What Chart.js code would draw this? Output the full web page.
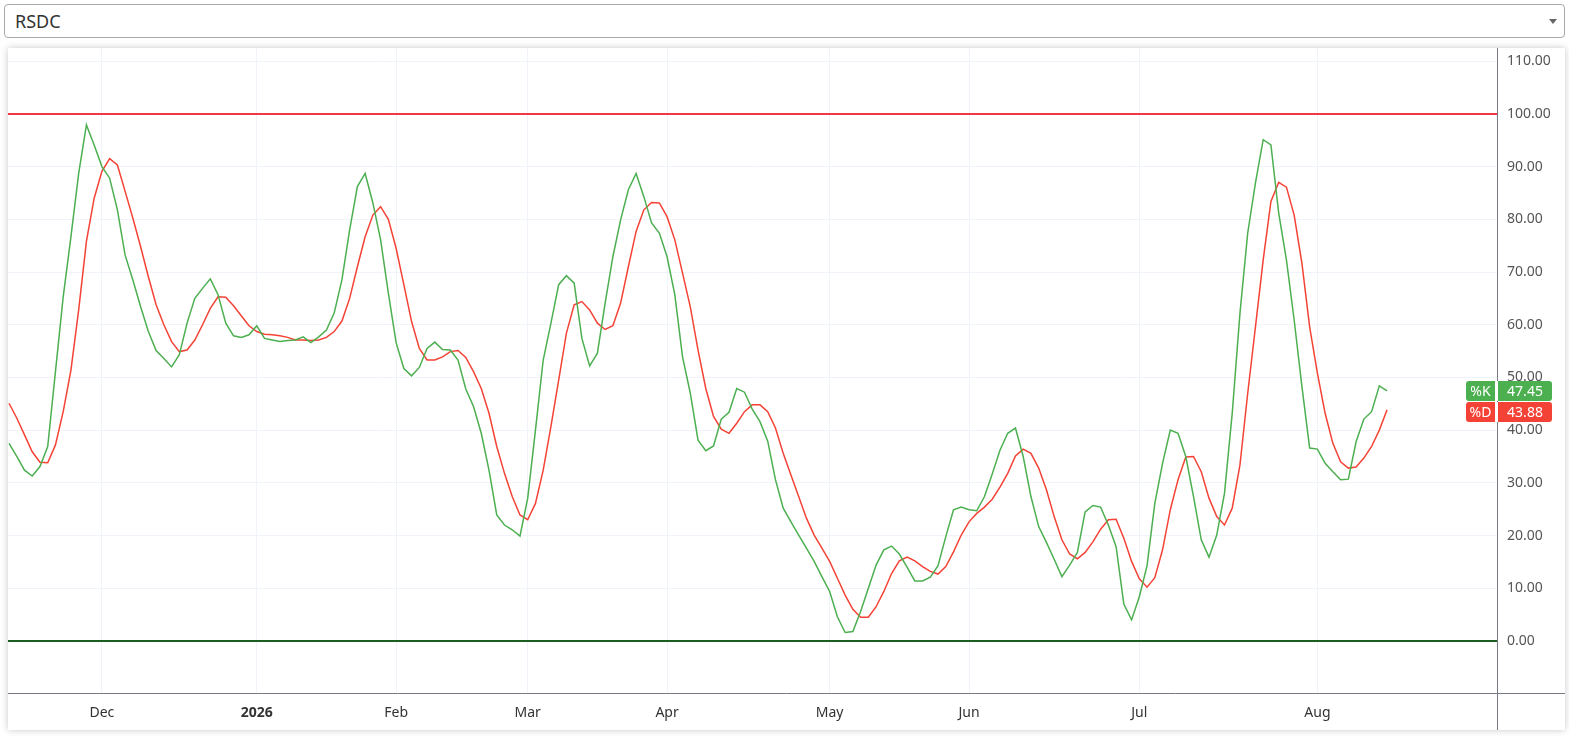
<!DOCTYPE html>
<html>
<head>
<meta charset="utf-8">
<script src="https://cdn.jsdelivr.net/npm/chart.js@4.4.1/dist/chart.umd.min.js"></script>
<style>
  body { margin: 0; background: #fff; font-family: "Noto Sans", sans-serif; }
  .picker { position: absolute; left: 4px; top: 4px; width: 1561px; height: 34px; }
  .picker select {
    appearance: none; -webkit-appearance: none;
    width: 100%; height: 100%; box-sizing: border-box;
    border: 1px solid #aaa; border-radius: 4px; background: #fff;
    font: 18px "Noto Sans", sans-serif; color: #333; padding: 0 0 0 10px;
  }
  .picker .arrow {
    position: absolute; right: 8px; top: 15px; width: 0; height: 0;
    border-left: 4px solid transparent; border-right: 4px solid transparent;
    border-top: 5px solid #666; pointer-events: none;
  }
  .card {
    position: absolute; left: 8px; top: 48px; width: 1557px; height: 682px;
    background: #fff; box-shadow: 0 0 7px rgba(0,0,0,0.22);
  }
</style>
</head>
<body>
<div class="picker">
  <select><option>RSDC</option></select>
  <span class="arrow"></span>
</div>
<div class="card"><canvas id="chartStoch"></canvas></div>
<script>
// stochastic %K / %D, one value per trading day
const kValues = [
  37.5, 35.0, 32.4, 31.3, 33.1, 36.9, 51.1, 65.3, 76.7, 88.7,
  97.9, 94.1, 90.0, 87.8, 81.8, 73.2, 68.5, 63.4, 58.7, 55.1,
  53.6, 52.0, 54.3, 60.3, 65.0, 66.9, 68.7, 65.7, 60.3, 57.9,
  57.6, 58.1, 59.8, 57.4, 57.1, 56.8, 57.0, 57.1, 57.7, 56.6,
  57.7, 59.0, 62.2, 68.5, 78.0, 86.2, 88.7, 83.1, 76.1, 66.0,
  56.6, 51.7, 50.3, 51.9, 55.5, 56.7, 55.3, 55.2, 53.3, 47.8,
  44.5, 39.4, 32.4, 23.9, 22.0, 21.1, 19.9, 27.1, 40.0, 53.3,
  60.3, 67.6, 69.3, 67.9, 57.4, 52.2, 54.6, 64.1, 72.9, 79.9,
  85.6, 88.7, 84.3, 79.3, 77.4, 72.9, 65.7, 53.9, 47.0, 38.1,
  36.1, 37.0, 42.1, 43.4, 47.9, 47.2, 44.0, 41.6, 37.9, 30.6,
  25.2, 22.6, 20.1, 17.6, 15.1, 12.2, 9.4, 4.6, 1.6, 1.8,
  5.6, 10.0, 14.4, 17.3, 18.0, 16.5, 14.0, 11.4, 11.4, 12.1,
  14.3, 19.8, 24.9, 25.4, 24.9, 24.7, 27.4, 31.7, 36.2, 39.4,
  40.4, 35.0, 27.4, 21.7, 18.7, 15.5, 12.2, 14.4, 16.8, 24.5,
  25.7, 25.4, 22.0, 17.9, 7.0, 4.0, 8.4, 14.3, 26.1, 33.7,
  40.0, 39.4, 35.0, 27.4, 19.2, 15.9, 20.1, 28.0, 43.2, 62.2,
  77.4, 86.9, 95.1, 94.1, 81.2, 72.3, 60.9, 48.3, 36.6, 36.4,
  33.7, 32.1, 30.6, 30.7, 37.8, 42.1, 43.5, 48.4, 47.45
];
const dValues = [
  45.1, 42.3, 39.1, 35.9, 33.9, 33.8, 37.2, 43.5, 51.4, 62.8,
  75.8, 84.0, 89.1, 91.5, 90.3, 85.3, 80.2, 74.8, 69.1, 63.8,
  60.0, 56.8, 54.9, 55.2, 57.1, 60.0, 63.1, 65.3, 65.2, 63.6,
  61.7, 59.8, 58.7, 58.2, 58.1, 57.9, 57.6, 57.1, 57.1, 57.0,
  57.1, 57.6, 58.7, 60.7, 65.0, 71.0, 76.7, 80.8, 82.4, 80.0,
  74.5, 67.6, 60.6, 55.5, 53.3, 53.3, 53.9, 54.9, 55.1, 53.8,
  51.1, 47.9, 43.2, 36.9, 31.8, 27.4, 23.9, 23.0, 26.1, 32.4,
  40.7, 49.5, 58.4, 63.8, 64.4, 62.8, 60.3, 59.1, 59.8, 64.1,
  71.0, 77.7, 81.8, 83.2, 83.1, 80.5, 76.1, 69.8, 63.4, 55.2,
  47.9, 42.6, 40.2, 39.4, 41.3, 43.5, 44.8, 44.8, 43.5, 40.4,
  35.6, 31.5, 27.4, 23.3, 20.1, 17.6, 15.1, 11.9, 8.7, 6.0,
  4.5, 4.5, 6.5, 9.4, 12.8, 15.2, 15.9, 15.2, 14.1, 13.2,
  12.7, 14.1, 16.9, 20.1, 22.6, 24.2, 25.4, 26.9, 29.2, 31.8,
  35.1, 36.4, 35.6, 32.8, 28.7, 23.6, 19.2, 16.5, 15.6, 16.8,
  18.8, 21.2, 23.0, 23.1, 19.5, 15.1, 11.8, 10.2, 12.0, 17.3,
  24.9, 30.6, 34.9, 35.0, 32.1, 27.1, 23.6, 22.0, 25.2, 33.4,
  47.0, 59.6, 72.3, 83.4, 87.0, 86.1, 80.8, 71.7, 59.6, 50.8,
  43.2, 37.5, 34.0, 32.8, 33.0, 34.7, 36.9, 40.0, 43.88
];

// bar index where each month label sits
const monthTickIndex = [12, 32, 50, 67, 85, 106, 124, 146, 169];
const monthTickLabel = ['Dec', '2026', 'Feb', 'Mar', 'Apr', 'May', 'Jun', 'Jul', 'Aug'];
const yTickValues = [0, 10, 20, 30, 40, 50, 60, 70, 80, 90, 100, 110];
const upperLevel = 100;
const lowerLevel = 0;

const GREEN = '#4caf50';
const RED = '#f44336';
const AXIS = '#787b86';
const GRID = '#f0f3fa';
const FONT = '"Noto Sans", sans-serif';

const overlay = {
    id: 'overlay',
    beforeDatasetsDraw(chart) {
        const ctx = chart.ctx, a = chart.chartArea, y = chart.scales.y;
        ctx.save();
        ctx.lineWidth = 2;
        [[upperLevel, '#f23645'], [lowerLevel, '#1b5e20']].forEach(([v, c]) => {
            const py = Math.round(y.getPixelForValue(v));
            ctx.strokeStyle = c;
            ctx.beginPath();
            ctx.moveTo(a.left, py);
            ctx.lineTo(a.right, py);
            ctx.stroke();
        });
        ctx.restore();
    },
    afterDraw(chart) {
        const ctx = chart.ctx, a = chart.chartArea, y = chart.scales.y;
        ctx.save();
        // axis lines running into the corner
        ctx.strokeStyle = AXIS;
        ctx.lineWidth = 1;
        ctx.beginPath();
        ctx.moveTo(a.right + 0.5, a.top);
        ctx.lineTo(a.right + 0.5, chart.height);
        ctx.moveTo(0, a.bottom + 0.5);
        ctx.lineTo(chart.width, a.bottom + 0.5);
        ctx.stroke();

        // last value labels on the price scale
        const tags = [
            { name: '%K', v: kValues[kValues.length - 1], c: GREEN },
            { name: '%D', v: dValues[dValues.length - 1], c: RED }
        ];
        const h = 20;
        let prevBottom = -Infinity;
        ctx.font = '14px ' + FONT;
        ctx.textAlign = 'center';
        ctx.textBaseline = 'middle';
        tags.forEach(t => {
            let top = Math.round(y.getPixelForValue(t.v) - h / 2);
            if (top < prevBottom + 1) top = prevBottom + 1;
            prevBottom = top + h;
            ctx.fillStyle = '#fff';
            ctx.fillRect(a.right - 1, top, 2, h);
            ctx.fillStyle = t.c;
            ctx.beginPath();
            ctx.roundRect(a.right - 31, top, 29, h, [3, 0, 0, 3]);
            ctx.fill();
            ctx.beginPath();
            ctx.roundRect(a.right + 1, top, 54, h, [0, 3, 3, 0]);
            ctx.fill();
            ctx.fillStyle = '#fff';
            ctx.fillText(t.name, a.right - 16.5, top + h / 2 + 1);
            ctx.fillText(t.v.toFixed(2), a.right + 28, top + h / 2 + 1);
        });
        ctx.restore();
    }
};

let stochChart = new Chart(document.getElementById('chartStoch'), {
    type: 'line',
    data: {
        datasets: [
            { label: '%K', data: kValues.map((v, i) => ({ x: i, y: v })), borderColor: GREEN, borderWidth: 1.5 },
            { label: '%D', data: dValues.map((v, i) => ({ x: i, y: v })), borderColor: RED, borderWidth: 1.5 }
        ]
    },
    options: {
        responsive: true,
        maintainAspectRatio: false,
        animation: false,
        layout: { padding: 0 },
        elements: { point: { radius: 0 }, line: { tension: 0 } },
        plugins: { legend: { display: false }, tooltip: { enabled: false } },
        scales: {
            x: {
                type: 'linear',
                min: -0.13,
                max: 192.2,
                afterBuildTicks: s => { s.ticks = monthTickIndex.map(v => ({ value: v })); },
                afterFit: s => { s.height = 37; s.paddingLeft = 0; s.paddingRight = 0; },
                grid: { color: GRID, drawTicks: false },
                border: { display: false },
                ticks: {
                    padding: 12,
                    maxRotation: 0,
                    autoSkip: false,
                    color: '#333',
                    font: c => ({ family: FONT, size: 14, weight: c.tick && c.tick.label === '2026' ? 'bold' : 'normal' }),
                    callback: v => monthTickLabel[monthTickIndex.indexOf(v)]
                }
            },
            y: {
                position: 'right',
                min: -9.87,
                max: 112.5,
                afterBuildTicks: s => { s.ticks = yTickValues.map(v => ({ value: v })); },
                afterFit: s => { s.width = 68; s.paddingTop = 0; s.paddingBottom = 0; },
                grid: { color: GRID, drawTicks: false },
                border: { display: false },
                ticks: {
                    padding: 10,
                    color: '#555',
                    font: { family: FONT, size: 14 },
                    callback: v => v.toFixed(2)
                }
            }
        }
    },
    plugins: [overlay]
});
</script>
</body>
</html>
